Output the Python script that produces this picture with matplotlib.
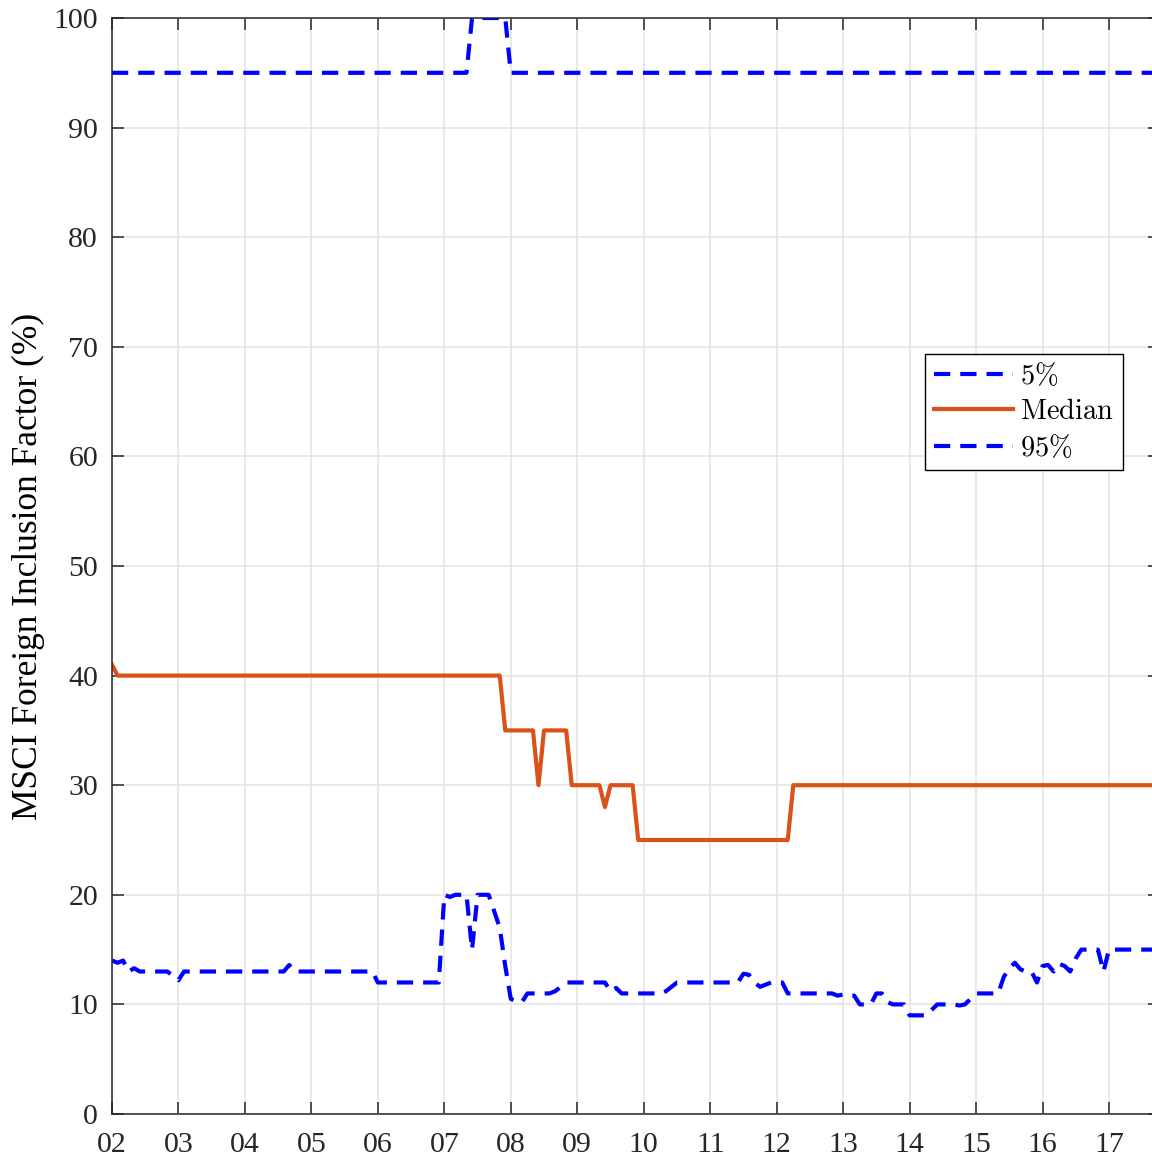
import matplotlib
matplotlib.use("Agg")
import matplotlib.pyplot as plt

# 1. Data (monthly points, only where the line changes)
median_months = ["2002-01", "2002-02", "2007-11", "2007-12", "2008-05", "2008-06", "2008-07",
                 "2008-11", "2008-12", "2009-05", "2009-06", "2009-07", "2009-11", "2009-12",
                 "2012-03", "2012-04", "2017-09"]
median_vals = [41, 40, 40, 35, 35, 30, 35, 35, 30, 30, 28, 30, 30, 25, 25, 30, 30]

p95_months = ["2002-01", "2007-05", "2007-06", "2007-12", "2008-01", "2017-09"]
p95_vals = [95, 95, 100, 100, 95, 95]

p5_months = ["2002-01", "2002-02", "2002-03", "2002-04", "2002-05", "2002-06", "2002-11", "2002-12",
             "2003-01", "2003-02", "2004-08", "2004-09", "2004-10", "2005-12", "2006-01", "2006-12",
             "2007-01", "2007-02", "2007-03", "2007-05", "2007-06", "2007-07", "2007-09", "2007-10",
             "2007-11", "2007-12", "2008-01", "2008-02", "2008-03", "2008-04", "2008-08", "2008-09",
             "2008-10", "2008-11", "2009-06", "2009-07", "2009-08", "2009-09", "2010-04", "2010-05",
             "2010-06", "2010-07", "2011-06", "2011-07", "2011-08", "2011-09", "2011-10", "2011-11",
             "2011-12", "2012-02", "2012-03", "2012-11", "2012-12", "2013-01", "2013-02", "2013-03",
             "2013-04", "2013-06", "2013-07", "2013-08", "2013-09", "2013-10", "2013-12", "2014-01",
             "2014-04", "2014-05", "2014-06", "2014-09", "2014-10", "2014-11", "2015-01", "2015-05",
             "2015-06", "2015-07", "2015-08", "2015-09", "2015-10", "2015-11", "2015-12", "2016-01",
             "2016-02", "2016-03", "2016-04", "2016-05", "2016-06", "2016-07", "2016-08", "2016-11",
             "2016-12", "2017-01", "2017-09"]
p5_vals = [14, 13.8, 14, 13, 13.3, 13, 13, 12.6,
           12.2, 13, 13, 13.6, 13, 13, 12, 12,
           20, 19.8, 20, 20, 15, 20, 20, 18.5,
           17, 13.5, 10.5, 10.3, 10.2, 11, 11, 11.2,
           11.6, 12, 12, 11.2, 11.5, 11, 11, 11.2,
           11.6, 12, 12, 12.8, 12.7, 12, 11.6, 11.8,
           12, 12, 11, 11, 10.8, 10.9, 10.8, 10.8,
           10, 10, 11, 11, 10.2, 10, 10, 9,
           9, 9.5, 10, 10, 9.9, 10, 11, 11,
           12.5, 13.3, 13.8, 13.2, 13, 13, 12, 13.5,
           13.6, 13, 13.7, 13.5, 13, 14.2, 15, 15,
           13, 15, 15]

year_ticks = list(range(2002, 2018))
year_labels = [f"{y % 100:02d}" for y in year_ticks]
y_ticks = list(range(0, 101, 10))


def to_year(months):
    return [int(m[:4]) + (int(m[5:]) - 1) / 12 for m in months]


# 2. Figure setup (MATLAB-like look)
plt.rcParams["font.family"] = ["Liberation Serif", "DejaVu Serif"]
plt.rcParams["mathtext.fontset"] = "cm"

W, H = 1152, 1163
fig = plt.figure(figsize=(W / 100, H / 100), dpi=100)
left, right, top, bottom = 112, 1160, 18, 1114
ax = fig.add_axes([left / W, 1 - bottom / H, (right - left) / W, (bottom - top) / H])

px_per_year = (1109 - 112) / 15
ax.set_xlim(2002, 2002 + (right - left) / px_per_year)
ax.set_ylim(0, 100)

blue = "#0000FF"
orange = "#D95319"
dash = (0, (3.9, 2.4))
lw = 3.0

ax.plot(to_year(p5_months), p5_vals, color=blue, lw=lw, ls=dash, label=r"$\mathrm{5\%}$")
ax.plot(to_year(median_months), median_vals, color=orange, lw=lw, label=r"$\mathrm{Median}$")
ax.plot(to_year(p95_months), p95_vals, color=blue, lw=lw, ls=dash, label=r"$\mathrm{95\%}$")

# 3. Axes styling
ax.set_xticks(year_ticks)
ax.set_xticklabels(year_labels)
ax.set_yticks(y_ticks)
ax.tick_params(direction="in", length=8.5, width=1.1, colors="#262626", labelsize=21.5,
               top=True, right=True)
ax.tick_params(axis="x", pad=13)
ax.tick_params(axis="y", pad=10)
for s in ax.spines.values():
    s.set_color("#262626")
    s.set_linewidth(1.1)
ax.grid(True, color="#e3e3e3", lw=1.1)
ax.set_axisbelow(True)

ax.set_ylabel("MSCI Foreign Inclusion Factor (%)", fontsize=25.5)
ax.yaxis.set_label_coords(-0.064, 0.5)

leg = ax.legend(loc="upper left", bbox_to_anchor=(925 / W, 1 - 354 / H),
                bbox_transform=fig.transFigure, borderaxespad=0, fancybox=False,
                framealpha=1, edgecolor="black", fontsize=20.5, handlelength=2.8,
                handletextpad=0.25, borderpad=0.3, labelspacing=0.31)
leg.get_frame().set_linewidth(1.0)

fig.savefig("out.png", dpi=100)
